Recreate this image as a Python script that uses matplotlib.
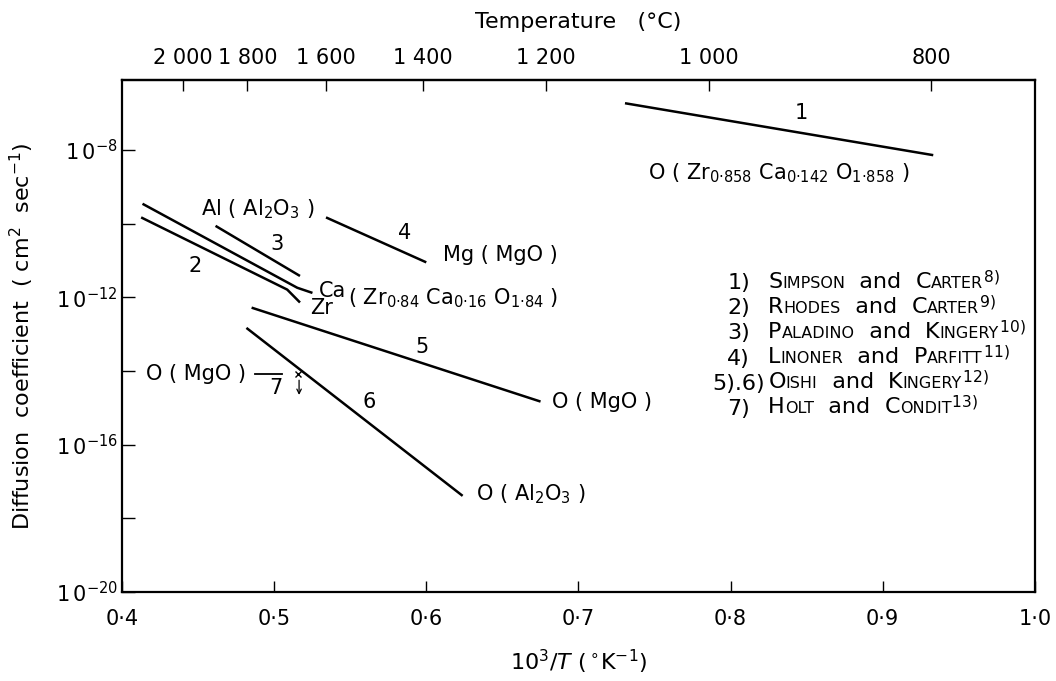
import numpy as np
import matplotlib
matplotlib.use('Agg')
import matplotlib.pyplot as plt
from matplotlib.ticker import FixedLocator, FixedFormatter, NullLocator
from matplotlib.offsetbox import TextArea, HPacker, AnnotationBbox

plt.rcParams['font.family'] = ['DejaVu Sans']
plt.rcParams['mathtext.fontset'] = 'dejavusans'

# ---------------- data (x = 10^3/T in K^-1, y = log10 D in cm^2/s) ----------------
line1_x = [0.7306, 0.9332]
line1_logD = [-6.73, -8.14]
ca_x = [0.4135, 0.5152, 0.5252]
ca_logD = [-9.46, -11.74, -11.88]
zr_x = [0.4126, 0.5086, 0.5170]
zr_logD = [-9.83, -11.79, -12.14]
line3_x = [0.4615, 0.5170]
line3_logD = [-10.06, -11.42]
line4_x = [0.5341, 0.6000]
line4_logD = [-9.83, -11.05]
line5_x = [0.4852, 0.6751]
line5_logD = [-12.28, -14.83]
line6_x = [0.4818, 0.6239]
line6_logD = [-12.83, -17.39]
line7_x = [0.4877, 0.5053]
line7_logD = [-14.09, -14.09]
line7_point_x = [0.5155]
line7_point_logD = [-14.07]

xticks = [0.4, 0.5, 0.6, 0.7, 0.8, 0.9, 1.0]
xtick_labels = ['0·4', '0·5', '0·6', '0·7', '0·8', '0·9', '1·0']
ytick_exp = [-8, -10, -12, -14, -16, -18, -20]
ytick_labelled = [-8, -12, -16, -20]
temp_c = [2000, 1800, 1600, 1400, 1200, 1000, 800]
temp_labels = ['2 000', '1 800', '1 600', '1 400', '1 200', '1 000', '800']

legend_nums = ['1)', '2)', '3)', '4)', '5).6)', '7)']
legend_first = ['Simpson', 'Rhodes', 'Paladino', 'Linoner', 'Oishi', 'Holt']
legend_second = ['Carter', 'Carter', 'Kingery', 'Parfitt', 'Kingery', 'Condit']
legend_refs = ['8)', '9)', '10)', '11)', '12)', '13)']

# ---------------- figure ----------------
fig = plt.figure(figsize=(10.56, 6.81), dpi=100)
ax = fig.add_axes([0.1155, 0.1307, 0.8645, 0.7518])
ax.set_yscale('log')
ax.set_xlim(0.4, 1.0)
ax.set_ylim(1e-20, 10 ** -6.1)

LW = 1.8
def D(v):
    return 10.0 ** np.asarray(v)

for xs, ys in [(line1_x, line1_logD), (ca_x, ca_logD), (zr_x, zr_logD),
               (line3_x, line3_logD), (line4_x, line4_logD),
               (line5_x, line5_logD), (line6_x, line6_logD)]:
    ax.plot(xs, D(ys), color='black', lw=LW, solid_capstyle='butt')
ax.plot(line7_x, D(line7_logD), color='black', lw=1.3)
ax.plot(line7_point_x, D(line7_point_logD), marker='x', ms=5, mew=1.0,
        color='black', ls='none')
ax.annotate('', xy=(line7_point_x[0] + 0.0009, D(-14.65)),
            xytext=(line7_point_x[0] + 0.0009, D(-14.25)),
            arrowprops=dict(arrowstyle='->', lw=0.9, color='black',
                            shrinkA=0, shrinkB=0, mutation_scale=8))

# ---------------- in-plot labels ----------------
FS = 15
def lab(x, logd, s, ha='left', va='center', fs=FS):
    ax.text(x, D(logd), s, ha=ha, va=va, fontsize=fs)

lab(0.8467, -7.0, '1', ha='center')
lab(0.7457, -8.63, r'$\mathregular{O\ (\ Zr_{0·858}\ Ca_{0·142}\ O_{1·858}\ )}$')
lab(0.452, -9.62, r'$\mathregular{Al\ (\ Al_{2}O_{3}\ )}$')
lab(0.5019, -10.54, '3', ha='center')
lab(0.4482, -11.14, '2', ha='center')
lab(0.5858, -10.26, '4', ha='center')
lab(0.6107, -10.86, 'Mg ( MgO )')
lab(0.5296, -11.83, 'Ca')
lab(0.5485, -12.02, r'$\mathregular{(\ Zr_{0·84}\ Ca_{0·16}\ O_{1·84}\ )}$')
lab(0.5236, -12.30, 'Zr')
lab(0.5975, -13.35, '5', ha='center')
lab(0.4818, -14.09, 'O ( MgO )', ha='right')
lab(0.501, -14.47, '7', ha='center')
lab(0.5624, -14.83, '6', ha='center')
lab(0.6824, -14.83, 'O ( MgO )')
lab(0.6327, -17.35, r'$\mathregular{O\ (\ Al_{2}O_{3}\ )}$')

# ---------------- reference list (small caps) ----------------
BIG = 16
SMALL = 11.5
for i, (num, a1, a2, ref) in enumerate(zip(legend_nums, legend_first,
                                            legend_second, legend_refs)):
    y = 0.603 - 0.049 * i
    xr = 0.704 if num == '5).6)' else 0.688
    ax.text(xr, y, num, transform=ax.transAxes, ha='right', va='center',
            fontsize=BIG)
    big = dict(fontsize=BIG, color='black')
    small = dict(fontsize=SMALL, color='black')
    parts = [TextArea(a1[0], textprops=big),
             TextArea(a1[1:].upper(), textprops=small),
             TextArea('  and  ', textprops=big),
             TextArea(a2[0], textprops=big),
             TextArea(a2[1:].upper(), textprops=small),
             TextArea(r'$^{\mathregular{' + ref + '}}$',
                      textprops=dict(fontsize=BIG))]
    box = HPacker(children=parts, align='baseline', pad=0, sep=0)
    ab = AnnotationBbox(box, (0.708, y), xycoords='axes fraction',
                        box_alignment=(0, 0.42), frameon=False, pad=0)
    ax.add_artist(ab)

# ---------------- axes styling ----------------
for sp in ax.spines.values():
    sp.set_linewidth(1.6)

ax.xaxis.set_major_locator(FixedLocator(xticks))
ax.xaxis.set_major_formatter(FixedFormatter(xtick_labels))
ax.xaxis.set_minor_locator(NullLocator())
ax.tick_params(axis='x', direction='in', length=8, width=1.0, labelsize=15,
               pad=12, top=False)

ylocs = [10.0 ** e for e in ytick_exp]
ylabs = [(r'$\mathregular{1\,0^{%d}}$' % e) if e in ytick_labelled else ''
         for e in ytick_exp]
ax.yaxis.set_major_locator(FixedLocator(ylocs))
ax.yaxis.set_major_formatter(FixedFormatter(ylabs))
ax.yaxis.set_minor_locator(NullLocator())
ax.tick_params(axis='y', direction='in', length=9, width=1.0, labelsize=15,
               pad=3, right=False)

ax.set_xlabel(r'$\mathregular{10^{3}/}T\ \mathregular{(\,^{\circ}K^{-1})}$',
              fontsize=16, labelpad=14)
ax.set_ylabel(r'Diffusion  coefficient  ( cm$^{2}$  sec$^{-1}$)', fontsize=16,
              labelpad=14)


def k_to_c(x):
    x = np.asarray(x, dtype=float)
    with np.errstate(divide='ignore', invalid='ignore'):
        return 1000.0 / x - 273.0


def c_to_k(c):
    c = np.asarray(c, dtype=float)
    with np.errstate(divide='ignore', invalid='ignore'):
        return 1000.0 / (c + 273.0)


sec = ax.secondary_xaxis('top', functions=(k_to_c, c_to_k))
sec.xaxis.set_major_locator(FixedLocator(temp_c))
sec.xaxis.set_major_formatter(FixedFormatter(temp_labels))
sec.xaxis.set_minor_locator(NullLocator())
sec.tick_params(direction='in', length=8, width=1.0, labelsize=15, pad=9)
sec.spines['top'].set_linewidth(1.6)
sec.set_xlabel('Temperature   (°C)', fontsize=16, labelpad=14)

fig.savefig('out.png', dpi=100)
